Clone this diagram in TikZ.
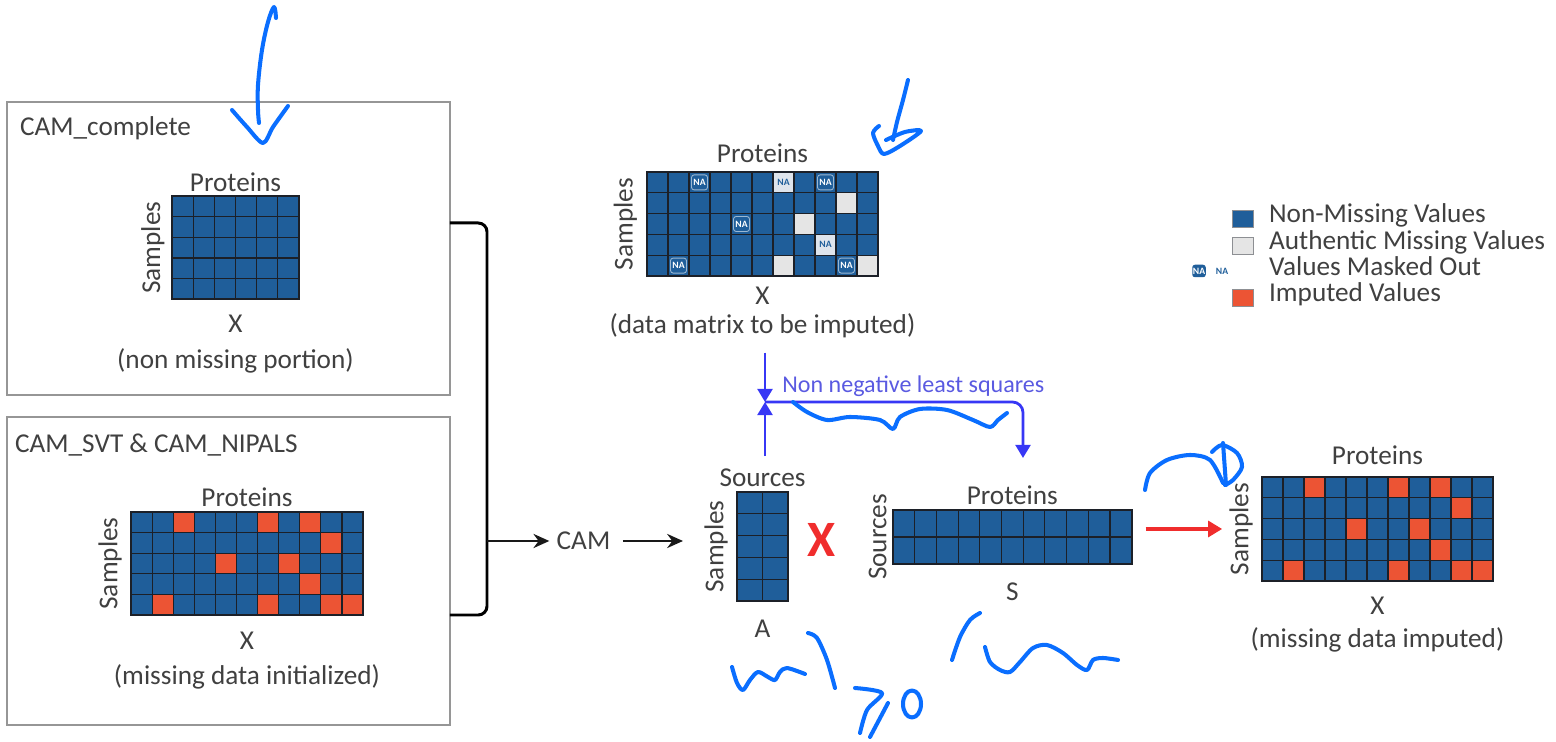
\documentclass[tikz,border=0pt]{standalone}
\usepackage{fontspec}
\setmainfont{Carlito}
\usepackage{tikz}
\usetikzlibrary{positioning}
\usetikzlibrary{calc}
\usetikzlibrary{arrows.meta}

\definecolor{cellblue}{RGB}{31,94,154}
\definecolor{gridc}{RGB}{28,32,40}
\definecolor{impred}{RGB}{236,84,52}
\definecolor{amgrey}{RGB}{229,229,229}
\definecolor{naback}{RGB}{222,228,236}
\definecolor{txt}{RGB}{64,64,64}
\definecolor{panelgrey}{RGB}{150,150,150}
\definecolor{nnlsblue}{RGB}{55,55,245}
\definecolor{nnlstxt}{RGB}{90,90,225}
\definecolor{inkblue}{RGB}{10,110,255}
\definecolor{arrred}{RGB}{240,45,45}

% cells of a matrix node, #2/#3 = last column/row, #4/#5 = cell size
\newcommand{\cellblock}[5]{%
  \foreach \ci in {0,...,#2}
    \foreach \ri in {0,...,#3}
      \draw[cellbox] ($(#1.north west)+(\ci*#4,\ri*#5)$) rectangle +(#4,#5);
}
\newcommand{\paintcell}[6]{%
  \draw[#6] ($(#1.north west)+(#2*#4,#3*#5)$) rectangle +(#4,#5);
}
\newcommand{\nacell}[6]{% #6 = dark or light
  \paintcell{#1}{#2}{#3}{#4}{#5}{na#6}
  \node[natxt#6] (#1na#2-#3) at ($(#1.north west)+(#2*#4+#4/2,#3*#5+#5/2)$) {NA};
}

\begin{document}
\begin{tikzpicture}[x=0.02cm, y=-0.02cm,
    lbl/.style={font=\fontsize{15.5}{18}\selectfont, text=txt, inner sep=1pt},
    vlbl/.style={lbl, rotate=90, anchor=south},
    panel/.style={draw=panelgrey, line width=0.85pt, inner sep=0pt, outer sep=0pt, anchor=north west},
    mat/.style={inner sep=0pt, outer sep=0pt, anchor=north west},
    matframe/.style={draw=gridc, line width=1.1pt},
    cellbox/.style={draw=gridc, line width=0.6pt, fill=cellblue},
    impcell/.style={cellbox, fill=impred},
    greycell/.style={cellbox, fill=amgrey},
    nadark/.style={cellbox},
    nalight/.style={cellbox, fill=naback},
    natxtdark/.style={draw=white!55!cellblue, rounded corners=1.5pt, line width=0.5pt,
        text=white, minimum width=0.32cm, minimum height=0.3cm, inner sep=0pt,
        font=\fontsize{5.5}{6}\selectfont\bfseries},
    natxtlight/.style={natxtdark, draw=none, text=cellblue},
    legsq/.style={draw=gridc!50, line width=0.5pt, minimum width=0.42cm, minimum height=0.35cm, inner sep=0pt},
    conn/.style={line width=1.7pt, draw=black!90, -{Stealth[length=9pt, width=8pt]}},
    nnls/.style={line width=1.6pt, draw=nnlsblue, -{Triangle[length=7.5pt, width=8.5pt]}},
    redarr/.style={line width=2pt, draw=arrred, -{Triangle[length=8pt, width=9pt]}},
    ink/.style={draw=inkblue, line width=2.3pt, line cap=round, line join=round}
]
\useasboundingbox (0,0) rectangle (1556,742);

% panels
\node[panel, minimum width=8.86cm, minimum height=5.86cm] (box1) at (7,102) {};
\node[lbl, anchor=north west] (t1) at ([shift={(11,12)}]box1.north west) {CAM\_complete};
\node[panel, minimum width=8.86cm, minimum height=6.16cm] (box2) at (7,417) {};
\node[lbl, anchor=north west] (t2) at ([shift={(6,15)}]box2.north west) {CAM\_SVT \& CAM\_NIPALS};

% non missing portion
\node[mat, minimum width=2.54cm, minimum height=2.066cm] (m1) at (172,196) {};
\cellblock{m1}{5}{4}{21.17}{20.67}
\draw[matframe] (m1.north west) rectangle (m1.south east);
\node[lbl, above=1.3pt of m1] (p1) {Proteins};
\node[vlbl] (s1) at ([xshift=-3pt]m1.west) {Samples};
\node[lbl, below=8pt of m1] (x1) {X};
\node[lbl, below=6.5pt of x1] (c1) {(non missing portion)};

% missing data initialized
\node[mat, minimum width=4.64cm, minimum height=2.06cm] (m2) at (131,512) {};
\cellblock{m2}{10}{4}{21.1}{20.6}
\foreach \ci/\ri in {2/0,6/0,8/0,9/1,4/2,7/2,8/3,1/4,6/4,9/4,10/4}
  \paintcell{m2}{\ci}{\ri}{21.1}{20.6}{impcell}
\draw[matframe] (m2.north west) rectangle (m2.south east);
\node[lbl, above=1.8pt of m2] (p2) {Proteins};
\node[vlbl] (s2) at ([xshift=-4pt]m2.west) {Samples};
\node[lbl, below=8.6pt of m2] (x2) {X};
\node[lbl, below=6pt of x2] (c2) {(missing data initialized)};

% bracket into CAM
\coordinate (jt) at (487,223);
\coordinate (jb) at (487,615);
\coordinate (jm) at (487,541);
\coordinate (aIn) at (683,541);
\draw[line width=1.7pt, rounded corners=5pt] (box1.east |- jt) -- (jt) -- (jb) -- (box2.east |- jb);
\node[lbl, inner sep=4pt] (cam) at (583.5,541) {CAM};
\draw[conn] (jm) -- (cam);
\draw[conn, shorten <=3pt] (cam) -- (aIn);

% data matrix to be imputed
\node[mat, minimum width=4.62cm, minimum height=2.08cm] (m3) at (647,172) {};
\cellblock{m3}{10}{4}{21}{20.8}
\foreach \ci/\ri in {9/1,7/2,6/4,10/4}
  \paintcell{m3}{\ci}{\ri}{21}{20.8}{greycell}
\foreach \ci/\ri in {2/0,8/0,4/2,1/4,9/4}
  \nacell{m3}{\ci}{\ri}{21}{20.8}{dark}
\foreach \ci/\ri in {6/0,8/3}
  \nacell{m3}{\ci}{\ri}{21}{20.8}{light}
\draw[matframe] (m3.north west) rectangle (m3.south east);
\node[lbl, above=4pt of m3] (p3) {Proteins};
\node[vlbl] (s3) at ([xshift=-4.5pt]m3.west) {Samples};
\node[lbl, below=5pt of m3] (x3) {X};
\node[lbl, below=3pt of x3] (c3) {(data matrix to be imputed)};

% A
\node[mat, minimum width=1.02cm, minimum height=2.18cm] (am) at (737,492) {};
\cellblock{am}{1}{4}{25.5}{21.8}
\draw[matframe] (am.north west) rectangle (am.south east);
\node[lbl, above=1.8pt of am] (srcA) {Sources};
\node[vlbl] (sa) at ([xshift=-4pt]am.west) {Samples};
\node[lbl, below=9.8pt of am] (an) {A};

\node[font=\fontsize{29}{30}\selectfont\bfseries, text=arrred, inner sep=0pt] (times) at (821.5,540) {X};

% S
\node[mat, minimum width=4.774cm, minimum height=1.08cm] (sm) at (893,510) {};
\cellblock{sm}{10}{1}{21.7}{27}
\draw[matframe] (sm.north west) rectangle (sm.south east);
\node[lbl, above=1.8pt of sm] (pS) {Proteins};
\node[vlbl] (ss) at ([xshift=-2.5pt]sm.west) {Sources};
\node[lbl, below=9.8pt of sm] (sn) {S};

% non negative least squares
\coordinate (meet) at (765,402);
\coordinate (sIn) at (1023,458);
\draw[nnls, shorten <=7pt] (c3.south -| meet) -- (meet);
\draw[nnls, shorten <=6pt] (srcA.north -| meet) -- (meet);
\draw[nnls, rounded corners=6pt] (meet) -| (sIn);
\node[font=\fontsize{13.7}{16}\selectfont, text=nnlstxt, inner sep=0pt, anchor=base west] (nnlsl) at (782,393) {Non negative least squares};

% missing data imputed
\node[mat, minimum width=4.62cm, minimum height=2.08cm] (m4) at (1262,477) {};
\cellblock{m4}{10}{4}{21}{20.8}
\foreach \ci/\ri in {2/0,6/0,8/0,9/1,4/2,7/2,8/3,1/4,6/4,9/4,10/4}
  \paintcell{m4}{\ci}{\ri}{21}{20.8}{impcell}
\draw[matframe] (m4.north west) rectangle (m4.south east);
\node[lbl, above=5.8pt of m4] (p4) {Proteins};
\node[vlbl] (s4) at ([xshift=-4pt]m4.west) {Samples};
\node[lbl, below=8pt of m4] (x4) {X};
\node[lbl, below=4.8pt of x4] (c4) {(missing data imputed)};
\draw[redarr, shorten <=8pt, shorten >=3pt] (sm.east |- m4.west) -- (s4.north |- m4.west);

% legend
\node[legsq, fill=cellblue] (lg1) at (1242.5,219) {};
\node[legsq, fill=amgrey] (lg2) at (1242.5,246) {};
\node[natxtdark, fill=cellblue, draw=none, minimum width=0.27cm, minimum height=0.25cm] (lg3a) at (1199,271) {NA};
\node[natxtlight, minimum width=0.27cm, minimum height=0.25cm] (lg3b) at (1222,271) {NA};
\node[legsq, fill=impred] (lg4) at (1242.5,298) {};
\node[lbl, anchor=base west] (lt1) at (1267,223) {Non-Missing Values};
\node[lbl, anchor=base west] (lt2) at (1267,250) {Authentic Missing Values};
\node[lbl, anchor=base west] (lt3) at (1267,276) {Values Masked Out};
\node[lbl, anchor=base west] (lt4) at (1267,302) {Imputed Values};

% handwritten marks
\draw[ink] plot[smooth, tension=0.6] coordinates {(276,18) (274,7) (268,22) (262,50) (258,85) (258,110) (259,123)};
\draw[ink] plot[smooth] coordinates {(232,110) (247,127) (263,143) (273,127) (288,106)};
\draw[ink] plot[smooth] coordinates {(908,80) (903,100) (897,122) (893,140)};
\draw[ink] plot[smooth] coordinates {(879,126) (873,133) (878,146) (884,154) (900,146) (921,131) (905,132) (886,140)};
\draw[ink] plot[smooth] coordinates {(793,402) (807,412) (827,420) (850,417) (880,420) (893,429) (900,417) (920,409) (947,410) (973,420) (990,427) (998,420) (1007,413)};
\draw[ink] plot[smooth] coordinates {(1145,490) (1150,473) (1167,460) (1190,455) (1210,460) (1223,483)};
\draw[ink] (1223,443) -- (1226,485);
\draw[ink] plot[smooth] coordinates {(1212,452) (1222,445) (1237,453) (1242,467) (1233,480) (1225,485)};
\draw[ink] plot[smooth] coordinates {(732,667) (737,683) (743,690) (750,680) (758,672) (768,677) (775,680) (780,672) (787,668) (805,674)};
\draw[ink] plot[smooth] coordinates {(808,633) (817,638) (827,660) (835,688)};
\draw[ink] plot[smooth] coordinates {(855,688) (882,693) (867,710) (860,733)};
\draw[ink] (888,703) -- (870,737);
\draw[ink] (912,704) ellipse [x radius=0.18cm, y radius=0.27cm];
\draw[ink] plot[smooth] coordinates {(980,613) (970,620) (960,637) (952,660)};
\draw[ink] plot[smooth] coordinates {(985,647) (990,662) (1000,670) (1010,672) (1020,662) (1033,648) (1047,645) (1063,653) (1077,665) (1087,670) (1093,660) (1103,658) (1118,660)};
\end{tikzpicture}
\end{document}
